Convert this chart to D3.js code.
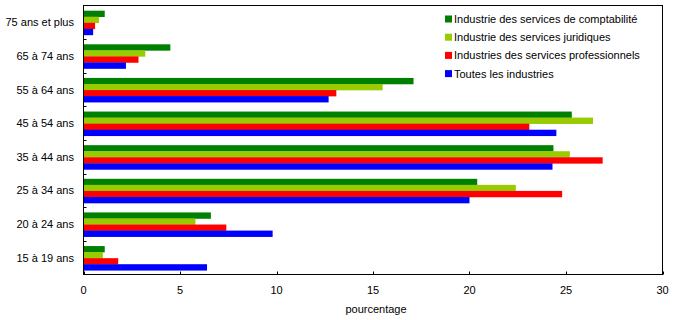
<!DOCTYPE html>
<html><head><meta charset="utf-8">
<script src="https://cdn.jsdelivr.net/npm/d3@7"></script>
<style>body{margin:0;background:#fff}svg{display:block}text{font-family:"Liberation Sans",Arial,sans-serif;font-size:11px;fill:#000}</style>
</head><body><svg id="c" width="675" height="320"></svg>
<script>
const categories = ["75 ans et plus","65 à 74 ans","55 à 64 ans","45 à 54 ans","35 à 44 ans","25 à 34 ans","20 à 24 ans","15 à 19 ans"];
const seriesNames = ["Industrie des services de comptabilité","Industrie des services juridiques","Industries des services professionnels","Toutes les industries"];
const seriesColors = ["#008000","#99cc00","#ff0000","#0000ff"];
const comptabilite = [1.1, 4.5, 17.1, 25.3, 24.35, 20.4, 6.6, 1.1];
const juridiques   = [0.8, 3.2, 15.5, 26.4, 25.2, 22.4, 5.8, 1.0];
const professionnels = [0.6, 2.85, 13.1, 23.1, 26.9, 24.8, 7.4, 1.8];
const toutes       = [0.5, 2.2, 12.7, 24.5, 24.3, 20.0, 9.8, 6.4];
const xTicks = [0,5,10,15,20,25,30];
const xTitle = "pourcentage";

const series = [comptabilite, juridiques, professionnels, toutes];
const svg = d3.select("#c");
const L=83.5, R=662.5, T=5.5, B=274.5;
const x = d3.scaleLinear().domain([0,30]).range([L,R]);
const y0 = d3.scaleBand().domain(categories).range([T,B]).paddingInner(0.28).paddingOuter(0.14).align(0.55);
const y1 = d3.scaleBand().domain(d3.range(4)).range([0,y0.bandwidth()]);

const g = svg.append("g");
categories.forEach((c,i)=>{
  series.forEach((s,j)=>{
    g.append("rect").attr("x",x(0)).attr("y",y0(c)+y1(j)).attr("width",x(s[i])-x(0)).attr("height",y1.bandwidth()+0.3).attr("fill",seriesColors[j]);
  });
});
// frame
svg.append("rect").attr("x",L).attr("y",T).attr("width",R-L).attr("height",B-T).attr("fill","none").attr("stroke","#000");
// x ticks
const xa = svg.append("g");
xTicks.forEach(t=>{
  xa.append("line").attr("x1",Math.round(x(t))+0.5).attr("x2",Math.round(x(t))+0.5).attr("y1",B).attr("y2",B-3).attr("stroke","#000");
  xa.append("text").attr("x",x(t)).attr("y",294).attr("text-anchor","middle").text(t);
});
// y ticks at boundaries
const step = y0.step();
for(let i=1;i<categories.length;i++){
  const yy = Math.round(T + i*(B-T)/categories.length)+0.5;
  svg.append("line").attr("x1",L).attr("x2",L+3).attr("y1",yy).attr("y2",yy).attr("stroke","#000");
}
categories.forEach((c,i)=>{
  const yc = T + (i+0.5)*(B-T)/categories.length;
  svg.append("text").attr("x",74).attr("y",yc+4).attr("text-anchor","end").text(c);
});
svg.append("text").attr("x",376).attr("y",313).attr("text-anchor","middle").text(xTitle);
// legend
seriesNames.forEach((n,j)=>{
  const yc = 19 + j*18.2;
  svg.append("rect").attr("x",445).attr("y",yc-3.5).attr("width",7).attr("height",7).attr("fill",seriesColors[j]);
  svg.append("text").attr("x",454).attr("y",yc+4).text(n);
});
</script></body></html>
